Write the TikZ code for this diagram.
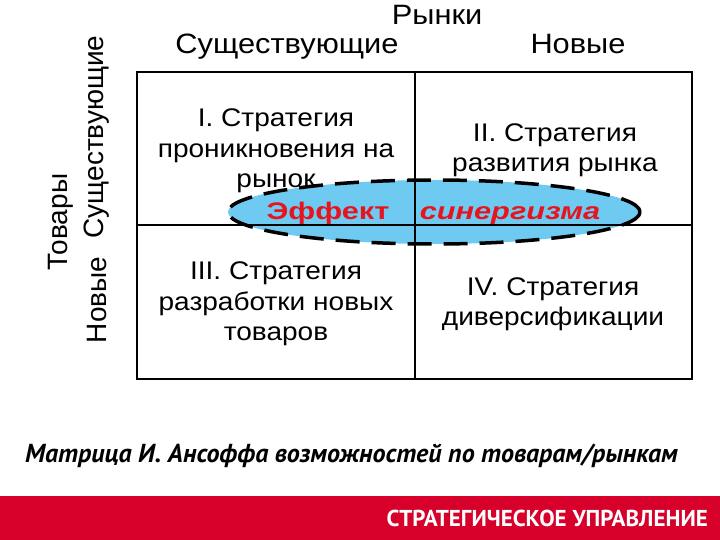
\documentclass[tikz,border=0pt]{standalone}
\usetikzlibrary{shapes.geometric}
\usepackage{fontspec}
\setmainfont{Liberation Sans}[FakeStretch=1.1]
\newfontfamily\plainarial{Liberation Sans}
\newfontfamily\capfont{PT Sans}
\definecolor{ellblue}{RGB}{110,202,240}
\definecolor{barred}{RGB}{215,0,42}
\definecolor{txtred}{RGB}{230,20,30}
\begin{document}
\begin{tikzpicture}[x=1pt,y=-1pt,
  lbl/.style={font=\fontsize{28}{30}\selectfont, inner sep=0pt, anchor=base},
  sidelbl/.style={font=\plainarial\fontsize{28}{30}\selectfont, inner sep=0pt, rotate=90},
  cell/.style={font=\fontsize{25.5}{30.5}\selectfont, align=center, inner sep=0pt},
  syn/.style={font=\plainarial\fontsize{24}{26}\selectfont\bfseries, text=txtred, inner sep=0pt, anchor=base},
  grid/.style={line width=2pt, black}]
\useasboundingbox (0,0) rectangle (720,540);
\fill[white] (0,0) rectangle (720,540);
% matrix frame
\coordinate (tl) at (137,72);
\coordinate (br) at (692,379);
\coordinate (vt) at (415,72);
\coordinate (vb) at (415,379);
\coordinate (hl) at (137,225);
\coordinate (hr) at (692,225);
% ellipse fill
\node[draw=none, fill=ellblue, ellipse, minimum width=412pt, minimum height=64pt, inner sep=0pt] (ell) at (434,212) {};
\draw[grid] (tl) rectangle (br);
\draw[grid] (vt) -- (vb);
\draw[grid] (hl) -- (hr);
\draw[line width=3.5pt, dash pattern=on 24pt off 12pt] (434,212) ellipse [x radius=206pt, y radius=32pt];
% labels
\node[lbl] (rynki) at (437,25) {Рынки};
\node[lbl] (sush) at (287,54) {Существующие};
\node[lbl] (nov) at (578,54) {Новые};
\node[sidelbl] (tov) at (61,222) {Товары};
\node[sidelbl] (sush2) at (97,137) {Существующие};
\node[sidelbl] (nov2) at (97,300) {Новые};
% cells
\node[cell] (q1) at (276,151) {I. Стратегия\\проникновения на\\рынок};
\node[cell] (q2) at (555,150) {II. Стратегия\\развития рынка};
\node[cell] (q3) at (276,304) {III. Стратегия\\разработки новых\\товаров};
\node[cell] (q4) at (553,304) {IV. Стратегия\\диверсификации};
% synergy
\node[syn] (eff) at (328,220) {\scalebox{1.28}[1]{Эффект}};
\node[syn] (syn) at (510,220) {\scalebox{1.28}[1]{\itshape синергизма}};
% caption
\node[font=\capfont\fontsize{26}{28}\selectfont\bfseries\itshape, inner sep=0pt, anchor=west] (cap) at (25,456) {Матрица И. Ансоффа возможностей по товарам/рынкам};
% bottom bar
\fill[barred] (0,496) rectangle (720,540);
\node[font=\capfont\fontsize{23}{26}\selectfont\bfseries, text=white, inner sep=0pt, anchor=east] (bar) at (708,518) {СТРАТЕГИЧЕСКОЕ УПРАВЛЕНИЕ};
\end{tikzpicture}
\end{document}
